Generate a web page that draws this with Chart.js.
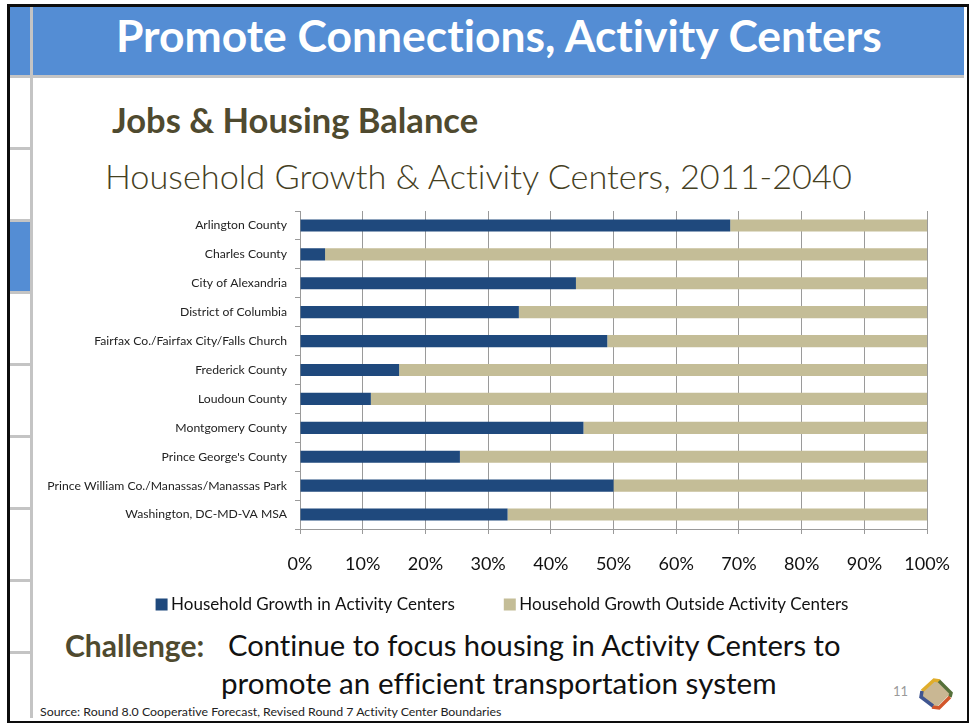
<!DOCTYPE html>
<html><head><meta charset="utf-8">
<script src="https://cdn.jsdelivr.net/npm/chart.js@4"></script>
<style>
html,body{margin:0;padding:0;background:#fff;width:969px;height:723px;overflow:hidden}
.a{position:absolute}
.t{position:absolute;white-space:nowrap;font-family:Lato,sans-serif;line-height:1;font-variant-ligatures:none}
#c{position:absolute;left:0;top:0}
</style></head><body>
<div class="a" style="left:7px;top:4px;width:957px;height:714px;border:3px solid #0d0d0d"></div>
<div class="a" style="left:10px;top:7px;width:954px;height:68px;background:#548dd4"></div>
<div class="a" style="left:10px;top:75px;width:954px;height:3px;background:#c4c4c4"></div>
<div class="a" style="left:30px;top:7px;width:3px;height:711px;background:#c4c4c4"></div>
<div class="a" style="left:10px;top:221px;width:20px;height:71px;background:#548dd4"></div>
<div class="a" style="left:10px;top:147px;width:20px;height:3px;background:#c4c4c4"></div>
<div class="a" style="left:10px;top:219px;width:20px;height:3px;background:#c4c4c4"></div>
<div class="a" style="left:10px;top:291px;width:20px;height:3px;background:#c4c4c4"></div>
<div class="a" style="left:10px;top:363px;width:20px;height:3px;background:#c4c4c4"></div>
<div class="a" style="left:10px;top:435px;width:20px;height:3px;background:#c4c4c4"></div>
<div class="a" style="left:10px;top:507px;width:20px;height:3px;background:#c4c4c4"></div>
<div class="a" style="left:10px;top:579px;width:20px;height:3px;background:#c4c4c4"></div>
<div class="a" style="left:10px;top:651px;width:20px;height:3px;background:#c4c4c4"></div>
<div class="t" style="left:116px;top:13px;font-size:44.4px;font-weight:700;color:#fff">Promote Connections, Activity Centers</div>
<div class="t" style="left:112px;top:103px;font-size:34.5px;font-weight:700;color:#4f4a2f">Jobs &amp; Housing Balance</div>
<div class="t" style="left:105px;top:159px;font-size:34.3px;font-weight:300;color:#45401f">Household Growth &amp; Activity Centers, 2011-2040</div>
<div class="t" style="left:65px;top:630px;font-size:30px;font-weight:700;color:#4f4a2f">Challenge:</div>
<div class="t" style="left:228px;top:630px;font-size:29.2px;color:#111">Continue to focus housing in Activity Centers to</div>
<div class="t" style="left:221px;top:668px;font-size:29.6px;color:#111">promote an efficient transportation system</div>
<div class="t" style="left:40px;top:706px;font-size:12.35px;color:#222">Source: Round 8.0 Cooperative Forecast, Revised Round 7 Activity Center Boundaries</div>
<div class="t" style="left:893px;top:685px;font-size:13px;color:#9a9a9a">11</div>
<svg class="a" style="left:917px;top:676px" width="37" height="36" viewBox="0 0 37 36">
<polygon points="18,3 33,18 18,33 3,18" fill="#c9b793"/>
<path d="M5 15 L17 4 L23 5" fill="none" stroke="#e0ad2b" stroke-width="3.5"/>
<path d="M22 5 L34 17 L33 21" fill="none" stroke="#55703a" stroke-width="3.5"/>
<path d="M33 21 L22 32 L15 31" fill="none" stroke="#d2562a" stroke-width="3.5"/>
<path d="M16 30 L4 21 L5 15" fill="none" stroke="#3f5590" stroke-width="3.5"/>
</svg>
<canvas id="c" width="969" height="723"></canvas>
<script>
const categories=["Arlington County","Charles County","City of Alexandria","District of Columbia","Fairfax Co./Fairfax City/Falls Church","Frederick County","Loudoun County","Montgomery County","Prince George's County","Prince William Co./Manassas/Manassas Park","Washington, DC-MD-VA MSA"];
const insideCenters=[68.6,4,44,34.9,49,15.8,11.3,45.2,25.5,50,33.1];
const outsideCenters=[31.4,96,56,65.1,51,84.2,88.7,54.8,74.5,50,66.9];
const xTicks=[0,10,20,30,40,50,60,70,80,90,100];
new Chart(document.getElementById('c'),{
 type:'bar',
 plugins:[{id:'tweak',
  beforeDraw(c){c.ctx.textRendering='optimizeSpeed'},
  afterLayout(c){const l=c.legend;l.left+=40;l.right+=40;l.top-=35;l.bottom-=35}}],
 data:{labels:categories,datasets:[
  {label:'Household Growth in Activity Centers',data:insideCenters,backgroundColor:'#1f497d',barPercentage:0.42,categoryPercentage:1},
  {label:'Household Growth Outside Activity Centers',data:outsideCenters,backgroundColor:'#c4bd97',barPercentage:0.42,categoryPercentage:1}
 ]},
 options:{
  indexAxis:'y',responsive:false,animation:false,
  layout:{padding:{left:0,right:39.4,top:211,bottom:65}},
  plugins:{tooltip:{enabled:false},
   legend:{position:'bottom',labels:{boxWidth:2,boxHeight:2,padding:54,color:'#111',font:{family:'Lato',size:17},
    generateLabels(c){return c.data.datasets.map((d,i)=>({text:d.label,fillStyle:d.backgroundColor,strokeStyle:d.backgroundColor,lineWidth:10,lineJoin:'miter',datasetIndex:i,fontColor:'#111'}))}}}},
  scales:{
   x:{stacked:true,min:0,max:100,
    afterBuildTicks(s){s.ticks=xTicks.map(v=>({value:v}))},
    afterFit(s){s.height=48},
    grid:{color:'#9a9a9a',tickLength:5,lineWidth:1},border:{color:'#9a9a9a'},
    ticks:{callback:v=>v+'%',color:'#111',maxRotation:0,autoSkip:false,padding:19,font:{family:'Lato',size:18}}},
   y:{stacked:true,
    afterFit(s){s.width=300},
    grid:{drawOnChartArea:false,color:'#9a9a9a',tickLength:5},border:{color:'#9a9a9a'},
    ticks:{color:'#222',autoSkip:false,padding:8,font:{family:'Lato',size:12.2}}}
  }
 }
});
</script>
</body></html>
